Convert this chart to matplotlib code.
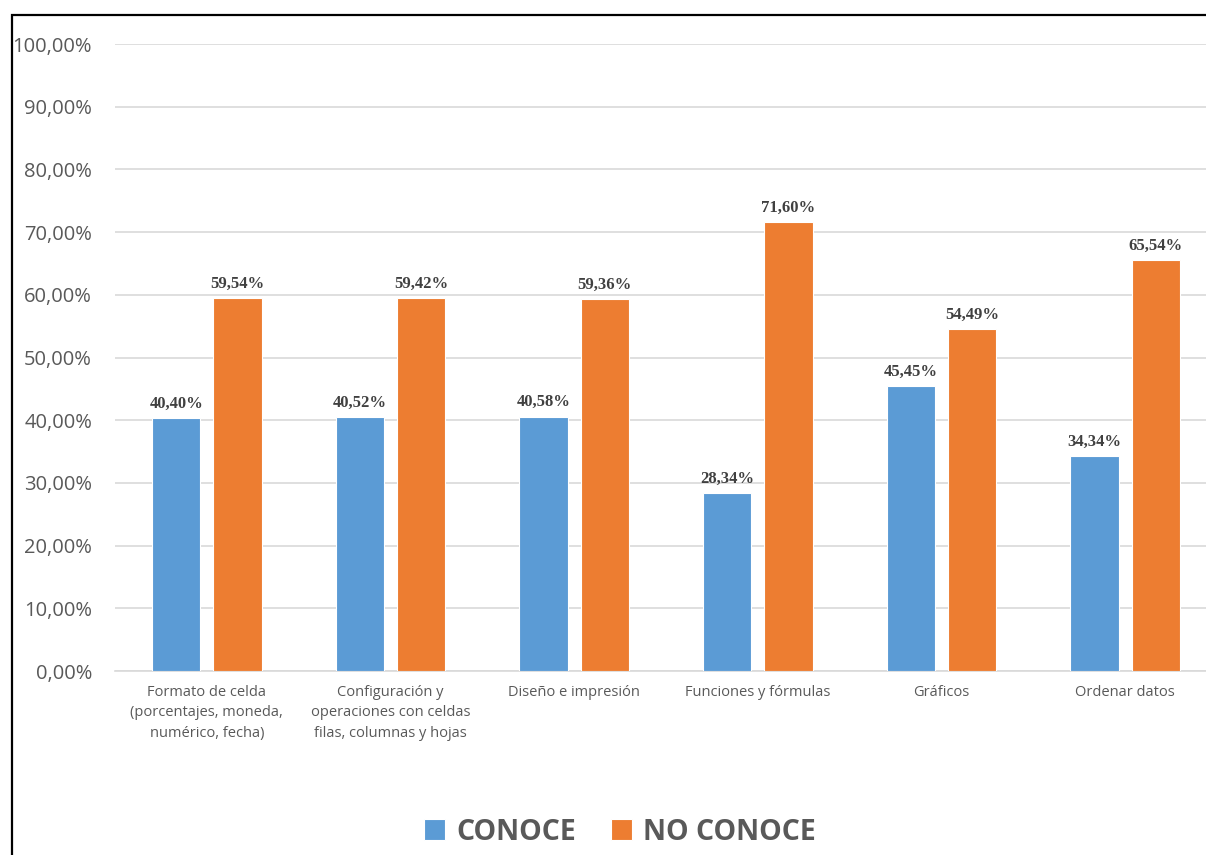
import matplotlib
matplotlib.use("Agg")
import matplotlib.pyplot as plt
from matplotlib.patches import Rectangle
from matplotlib.ticker import FuncFormatter
import numpy as np

categories = [
    "Formato de celda\n(porcentajes, moneda,\nnumérico, fecha)",
    "Configuración y\noperaciones con celdas\nfilas, columnas y hojas",
    "Diseño e impresión",
    "Funciones y fórmulas",
    "Gráficos",
    "Ordenar datos",
]
conoce = [40.40, 40.52, 40.58, 28.34, 45.45, 34.34]
no_conoce = [59.54, 59.42, 59.36, 71.60, 54.49, 65.54]
series_names = ["CONOCE", "NO CONOCE"]

BLUE = "#5B9BD5"
ORANGE = "#ED7D31"
TEXT = "#595959"
GRID = "#D9D9D9"

W, H = 1206, 855
fig = plt.figure(figsize=(W / 100, H / 100), dpi=100)
fig.patch.set_facecolor("white")

# axes placed in pixel terms
left, right, top, bottom = 115, 1217, 44, 671
ax = fig.add_axes([left / W, 1 - bottom / H, (right - left) / W, (bottom - top) / H])

x = np.arange(len(categories))
bw = 0.262
off = 0.167
b1 = ax.bar(x - off, conoce, bw, color=BLUE, edgecolor="white", linewidth=0.8, zorder=3,
            label=series_names[0])
b2 = ax.bar(x + off, no_conoce, bw, color=ORANGE, edgecolor="white", linewidth=0.8, zorder=3,
            label=series_names[1])

def fmt(v):
    return f"{v:.2f}".replace(".", ",") + "%"

for bars, vals in ((b1, conoce), (b2, no_conoce)):
    for r, v in zip(bars, vals):
        ax.annotate(fmt(v), (r.get_x() + r.get_width() / 2, v), xytext=(0, 4.5),
                    textcoords="offset points", ha="center", va="bottom",
                    fontsize=12, fontweight="bold", family="Liberation Serif",
                    color="#404040")

ax.set_xlim(-0.5, len(categories) - 0.5)
ax.set_ylim(0, 100)
ax.set_yticks(np.arange(0, 101, 10))
ax.yaxis.set_major_formatter(FuncFormatter(lambda v, p: f"{v:.2f}".replace(".", ",") + "%"))
ax.set_xticks(x)
ax.set_xticklabels(categories, fontsize=10.5, color=TEXT, family="Open Sans", linespacing=1.5)
for lbl in ax.get_yticklabels():
    lbl.set_family("Open Sans")
ax.tick_params(axis="y", length=0, pad=16.5, labelsize=14.5, labelcolor=TEXT)
ax.tick_params(axis="x", length=0, pad=10)
ax.grid(axis="y", color=GRID, linewidth=1.2, zorder=0)
ax.set_axisbelow(True)
for s in ("top", "right", "left"):
    ax.spines[s].set_visible(False)
ax.spines["bottom"].set_color(GRID)
ax.spines["bottom"].set_linewidth(1.2)

leg = fig.legend(handles=[b1, b2], loc="center", bbox_to_anchor=(620 / W, 1 - 832 / H),
                 ncol=2, frameon=False, handlelength=0.72, handleheight=0.72,
                 handletextpad=0.4, columnspacing=1.25,
                 prop={"family": "Open Sans", "weight": "bold", "size": 20.5})
for t in leg.get_texts():
    t.set_color(TEXT)

# outer frame of the chart area
fig.patches.append(Rectangle((11.5 / W, -0.05), 1.1, 1 - 14.5 / H + 0.05,
                             transform=fig.transFigure, fill=False,
                             edgecolor="black", linewidth=1.6, zorder=10))

fig.savefig("out.png", dpi=100)
